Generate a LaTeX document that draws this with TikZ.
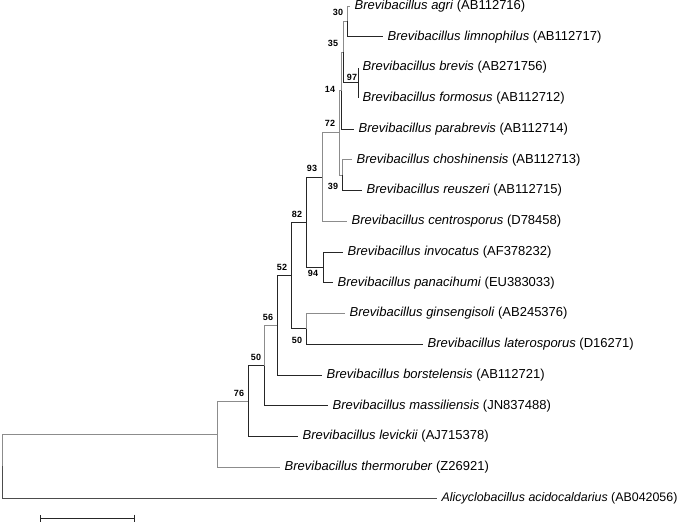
\documentclass[tikz,border=0pt]{standalone}
\usepackage{fontspec}
\setmainfont{Liberation Sans}
\usetikzlibrary{arrows.meta,positioning}

\begin{document}
\begin{tikzpicture}[
  x=1pt, y=-1pt,
  br/.style={draw=black!85, line width=0.85pt},
  brg/.style={draw=black!45, line width=0.85pt},
  leaf/.style={anchor=west, inner xsep=4.5pt, inner ysep=1pt, font=\fontsize{13}{15}\selectfont},
  boot/.style={font=\fontsize{9}{10}\selectfont\bfseries, inner sep=1pt},
  scalebar/.style={draw=black!85, line width=0.85pt, {Bar[width=7pt]}-{Bar[width=7pt]}}
]
  \useasboundingbox (0,0) rectangle (685,522);

  % Leaves — 30.75 spacing
  \node[leaf] (agri)   at (350,   6.00) {\textit{Brevibacillus agri} (AB112716)};
  \node[leaf] (limno)  at (383,  36.75) {\textit{Brevibacillus limnophilus} (AB112717)};
  \node[leaf] (brevis) at (358,  67.50) {\textit{Brevibacillus brevis} (AB271756)};
  \node[leaf] (formo)  at (358,  98.25) {\textit{Brevibacillus formosus} (AB112712)};
  \node[leaf] (parab)  at (354, 129.00) {\textit{Brevibacillus parabrevis} (AB112714)};
  \node[leaf] (chosh)  at (352, 159.75) {\textit{Brevibacillus choshinensis} (AB112713)};
  \node[leaf] (reusz)  at (362, 190.50) {\textit{Brevibacillus reuszeri} (AB112715)};
  \node[leaf] (centro) at (347, 221.25) {\textit{Brevibacillus centrosporus} (D78458)};
  \node[leaf] (invoc)  at (343, 252.00) {\textit{Brevibacillus invocatus} (AF378232)};
  \node[leaf] (panac)  at (333, 282.75) {\textit{Brevibacillus panacihumi} (EU383033)};
  \node[leaf] (ginsg)  at (345, 313.50) {\textit{Brevibacillus ginsengisoli} (AB245376)};
  \node[leaf] (later)  at (423, 344.25) {\textit{Brevibacillus laterosporus} (D16271)};
  \node[leaf] (borst)  at (322, 375.00) {\textit{Brevibacillus borstelensis} (AB112721)};
  \node[leaf] (massi)  at (328, 405.75) {\textit{Brevibacillus massiliensis} (JN837488)};
  \node[leaf] (levic)  at (298, 436.50) {\textit{Brevibacillus levickii} (AJ715378)};
  \node[leaf] (therm)  at (280, 467.25) {\textit{Brevibacillus thermoruber} (Z26921)};
  \node[leaf, font=\fontsize{12.4}{15}\selectfont] (alicy) at (437, 498.00)
    {\textit{Alicyclobacillus acidocaldarius} (AB042056)};

  % Internal nodes
  \coordinate (n30)  at (347,  21.4);
  \coordinate (n97)  at (358,  82.9);
  \coordinate (n35)  at (343,  52.1);
  \coordinate (n14)  at (341,  90.6);
  \coordinate (n39)  at (342, 175.1);
  \coordinate (n72)  at (339, 132.9);
  \coordinate (n93)  at (322, 177.1);
  \coordinate (n94)  at (323, 267.4);
  \coordinate (n82)  at (306, 222.2);
  \coordinate (n50b) at (306, 328.9);
  \coordinate (n52)  at (291, 275.6);
  \coordinate (n56)  at (277, 325.3);
  \coordinate (n50)  at (264, 365.5);
  \coordinate (n76)  at (248, 401.0);
  \coordinate (nA)   at (217, 434.1);
  \coordinate (root) at (2,   466.1);

  % Branches
  \draw[brg] (root) |- (nA);
  \draw[br, draw=black!70] (root) |- (alicy.west);
  \draw[brg] (nA) |- (n76);
  \draw[brg] (nA) |- (therm.west);
  \draw[br]  (n76) |- (n50);
  \draw[br]  (n76) |- (levic.west);
  \draw[brg] (n50) |- (n56);
  \draw[br]  (n50) |- (massi.west);
  \draw[br]  (n56) |- (n52);
  \draw[br]  (n56) |- (borst.west);
  \draw[br]  (n52) |- (n82);
  \draw[br]  (n52) |- (n50b);
  \draw[brg] (n50b) |- (ginsg.west);
  \draw[br]  (n50b) |- (later.west);
  \draw[br]  (n82) |- (n93);
  \draw[br]  (n82) |- (n94);
  \draw[br]  (n94) |- (invoc.west);
  \draw[br]  (n94) |- (panac.west);
  \draw[brg] (n93) |- (n72);
  \draw[brg] (n93) |- (centro.west);
  \draw[brg] (n72) |- (n14);
  \draw[brg] (n72) |- (n39);
  \draw[brg] (n39) |- (chosh.west);
  \draw[br]  (n39) |- (reusz.west);
  \draw[brg] (n14) |- (n35);
  \draw[br]  (n14) |- (parab.west);
  \draw[brg] (n35) |- (n30);
  \draw[br]  (n35) |- (n97);
  \draw[brg] (n30) |- (agri.west);
  \draw[br]  (n30) |- (limno.west);
  \draw[br]  (n97) |- (brevis.west);
  \draw[br]  (n97) |- (formo.west);

  % Bootstrap values
  \node[boot] (b30)  at (338,  12) {30};
  \node[boot] (b35)  at (333,  43) {35};
  \node[boot] (b97)  at (352,  77) {97};
  \node[boot] (b14)  at (330,  89) {14};
  \node[boot] (b72)  at (330, 123) {72};
  \node[boot] (b93)  at (312, 168) {93};
  \node[boot] (b39)  at (333, 186) {39};
  \node[boot] (b82)  at (297, 214) {82};
  \node[boot] (b94)  at (313, 273) {94};
  \node[boot] (b52)  at (282, 267) {52};
  \node[boot] (b50b) at (297, 340) {50};
  \node[boot] (b56)  at (268, 317) {56};
  \node[boot] (b50)  at (256, 357) {50};
  \node[boot] (b76)  at (239, 393) {76};

  % Scale bar
  \coordinate (sbl) at (40, 518);
  \coordinate (sbr) at (135, 518);
  \draw[scalebar] (sbl) -- (sbr);

\end{tikzpicture}
\end{document}
